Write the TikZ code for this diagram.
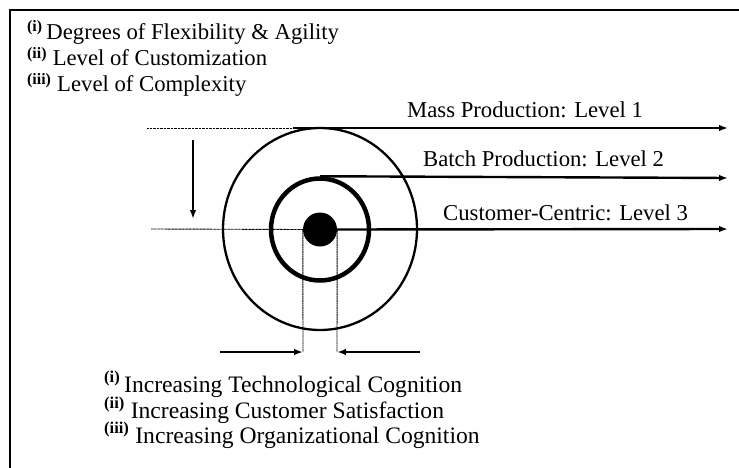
\documentclass[tikz,border=0pt]{standalone}
\usepackage{fontspec}
\setmainfont{Liberation Serif}
\usetikzlibrary{arrows.meta,shapes.geometric}
\newcommand{\rn}[1]{\textsuperscript{\textbf{#1}}}
\tikzset{
  txt/.style={anchor=base west,inner sep=0pt,font=\fontsize{22.7}{27}\selectfont},
  btxt/.style={txt,font=\fontsize{23.6}{28}\selectfont},
  frame/.style={line width=2pt},
  thinline/.style={line width=0.9pt,dash pattern=on 1pt off 0.4pt},
  arr/.style={line width=2pt,-{Latex[length=9pt,width=6.5pt]}},
  ring/.style={draw,ellipse,inner sep=0pt,line width=2.3pt}
}
\begin{document}
\begin{tikzpicture}[x=1pt,y=-1pt]
\useasboundingbox (0,0) rectangle (739,468);
% frame
\draw[frame] (10,468) -- (10,10.5) -- (739,10.5);
% top-left labels
\node[txt] (t1) at (27,39.5) {\rn{(i)}\,Degrees of Flexibility \& Agility};
\node[txt] (t2) at (27,66) {\rn{(ii)} Level of Customization};
\node[txt] (t3) at (27,92) {\rn{(iii)} Level of Complexity};
% circles
\node[ring,minimum width=194pt,minimum height=202pt] (outer) at (320,229) {};
\node[ring,line width=4.5pt,minimum width=98pt,minimum height=102pt] (mid) at (320,229.5) {};
\node[circle,fill=black,inner sep=0pt,minimum size=34pt] (dot) at (320,229.5) {};
% coordinates
\coordinate (a1) at (728,128);
\coordinate (a2) at (728,178);
\coordinate (a3) at (728,229);
\coordinate (l1) at (147,128);
\coordinate (l1e) at (293,128);
\coordinate (l3) at (151,229);
\coordinate (d1) at (193,140);
\coordinate (d2) at (193,219);
\coordinate (vl) at (303,352);
\coordinate (vr) at (337,352);
\coordinate (bl) at (220,352);
\coordinate (br) at (420,352);
% thin guide lines
\draw[thinline] (l1) -- (l1e);
\draw[thinline] (l3) -- (dot.west);
\draw[thinline] (dot.west) -- (vl);
\draw[thinline] (dot.east) -- (vr);
% level arrows
\draw[arr] (l1e) -- (a1);
\draw[arr,line width=2.4pt] (mid.north) -- (a2);
\draw[arr,line width=2.4pt] (dot.east) -- (a3);
\draw[arr] (d1) -- (d2);
\draw[arr] (bl) -- (vl);
\draw[arr] (br) -- (vr);
% level labels
\node[txt] (m1) at (407,118) {Mass Production: Level 1};
\node[txt] (m2) at (423,167) {Batch Production: Level 2};
\node[txt] (m3) at (443,220) {Customer-Centric: Level 3};
% bottom labels
\node[btxt] (b1) at (104,392) {\rn{(i)}\,Increasing Technological Cognition};
\node[btxt] (b2) at (104,418) {\rn{(ii)} Increasing Customer Satisfaction};
\node[btxt] (b3) at (104,443) {\rn{(iii)} Increasing Organizational Cognition};
\end{tikzpicture}
\end{document}
